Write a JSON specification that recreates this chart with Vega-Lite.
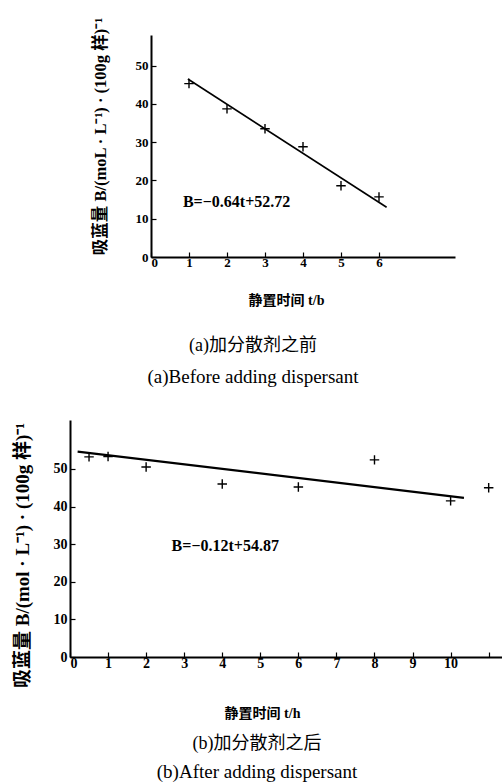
{
  "$schema": "https://vega.github.io/schema/vega-lite/v6.json",
  "padding": {"left": 12, "top": 16, "right": 0, "bottom": 0},
  "background": "white",
  "spacing": 33,
  "datasets": {
    "ptsA": [
      {"t": 1, "B": 45.3}, {"t": 2, "B": 38.7}, {"t": 3, "B": 33.5},
      {"t": 4, "B": 28.8}, {"t": 5, "B": 18.6}, {"t": 6, "B": 15.7}
    ],
    "lineA": [{"t": 0.97, "B": 46.5}, {"t": 6.2, "B": 13.0}],
    "ptsB": [
      {"t": 0.5, "B": 53.2}, {"t": 1, "B": 53.3}, {"t": 2, "B": 50.5},
      {"t": 4, "B": 46.0}, {"t": 6, "B": 45.2}, {"t": 8, "B": 52.4},
      {"t": 10, "B": 41.5}, {"t": 11, "B": 45.0}
    ],
    "lineB": [{"t": 0.2, "B": 54.6}, {"t": 10.35, "B": 42.3}],
    "eqA": [{"t": 0.84, "B": 14.4, "label": "B=−0.64t+52.72"}],
    "eqB": [{"t": 2.67, "B": 29.5, "label": "B=−0.12t+54.87"}]
  },
  "vconcat": [
    {
      "hconcat": [
        {
          "data": {"values": []},
          "width": 21,
          "height": 1,
          "mark": "point"
        },
        {
          "width": 304,
          "height": 222,
          "title": {
            "text": "(a)加分散剂之前",
            "subtitle": "(a)Before adding dispersant",
            "orient": "bottom",
            "anchor": "middle",
            "dx": -50,
            "offset": 30,
            "font": "Liberation Serif, Noto Sans CJK SC",
            "fontSize": 18,
            "fontWeight": "normal",
            "color": "black",
            "subtitleFont": "Liberation Serif",
            "subtitleFontSize": 19,
            "subtitleColor": "black",
            "subtitlePadding": 13
          },
          "encoding": {
            "x": {"field": "t", "type": "quantitative", "scale": {"domain": [0, 8], "nice": false},
              "axis": {"values": [0, 1, 2, 3, 4, 5, 6], "labelOverlap": false, "title": "静置时间 t/b", "titleX": 135, "titleY": 43, "titleBaseline": "middle", "labelFontSize": 13}},
            "y": {"field": "B", "type": "quantitative", "scale": {"domain": [0, 58], "nice": false},
              "axis": {"values": [0, 10, 20, 30, 40, 50], "labelOverlap": false, "title": "吸蓝量 B/(moL · L⁻¹) · (100g 样)⁻¹", "titleX": -51, "titleY": 101, "titleBaseline": "middle", "titleFontSize": 16.5, "labelFontSize": 13}}
          },
          "layer": [
            {
              "data": {"name": "ptsA"},
              "mark": {"type": "point", "shape": "M-1,0L1,0M0,-1L0,1", "filled": false, "stroke": "black", "strokeWidth": 1.4, "size": 90, "opacity": 1}
            },
            {
              "data": {"name": "lineA"},
              "mark": {"type": "line", "color": "black", "strokeWidth": 1.6}
            },
            {
              "data": {"name": "eqA"},
              "mark": {"type": "text", "align": "left", "baseline": "middle", "font": "Liberation Serif", "fontSize": 16, "fontWeight": "bold", "color": "black"},
              "encoding": {"text": {"field": "label"}}
            }
          ]
        }
      ],
      "spacing": 0
    },
    {
      "width": 432,
      "height": 237,
      "title": {
        "text": "(b)加分散剂之后",
        "subtitle": "(b)After adding dispersant",
        "orient": "bottom",
        "anchor": "middle",
        "dx": -29,
        "offset": 15,
        "font": "Liberation Serif, Noto Sans CJK SC",
        "fontSize": 18,
        "fontWeight": "normal",
        "color": "black",
        "subtitleFont": "Liberation Serif",
        "subtitleFontSize": 19,
        "subtitleColor": "black",
        "subtitlePadding": 10
      },
      "encoding": {
        "x": {"field": "t", "type": "quantitative", "scale": {"domain": [0, 11.35], "nice": false},
          "axis": {"values": [0, 1, 2, 3, 4, 5, 6, 7, 8, 9, 10, 11], "labelOverlap": false, "labelExpr": "datum.value <= 10 ? datum.label : ''", "title": "静置时间 t/h", "titleX": 192, "titleY": 56, "titleBaseline": "middle", "labelFontSize": 14}},
        "y": {"field": "B", "type": "quantitative", "scale": {"domain": [0, 63], "nice": false},
          "axis": {"values": [0, 10, 20, 30, 40, 50], "labelOverlap": false, "title": "吸蓝量 B/(mol · L⁻¹) · (100g 样)⁻¹", "titleX": -48, "titleY": 135, "titleBaseline": "middle", "titleFontSize": 19, "labelFontSize": 14}}
      },
      "layer": [
        {
          "data": {"name": "ptsB"},
          "mark": {"type": "point", "shape": "M-1,0L1,0M0,-1L0,1", "filled": false, "stroke": "black", "strokeWidth": 1.4, "size": 90, "opacity": 1}
        },
        {
          "data": {"name": "lineB"},
          "mark": {"type": "line", "color": "black", "strokeWidth": 2.2}
        },
        {
          "data": {"name": "eqB"},
          "mark": {"type": "text", "align": "left", "baseline": "middle", "font": "Liberation Serif", "fontSize": 16, "fontWeight": "bold", "color": "black"},
          "encoding": {"text": {"field": "label"}}
        }
      ]
    }
  ],
  "config": {
    "view": {"stroke": null},
    "axis": {
      "grid": false,
      "domainColor": "black",
      "domainWidth": 2,
      "tickColor": "black",
      "tickSize": -5,
      "tickWidth": 1.2,
      "labelColor": "black",
      "labelFont": "Liberation Serif",
      "labelFontWeight": "bold",
      "labelPadding": 4,
      "labelOverlap": false,
      "titleColor": "black",
      "titleFont": "Liberation Serif, Noto Sans CJK SC",
      "titleFontWeight": "bold",
      "titleFontSize": 14,
      "titleAlign": "center"
    },
    "axisY": {"labelPadding": 8}
  }
}
